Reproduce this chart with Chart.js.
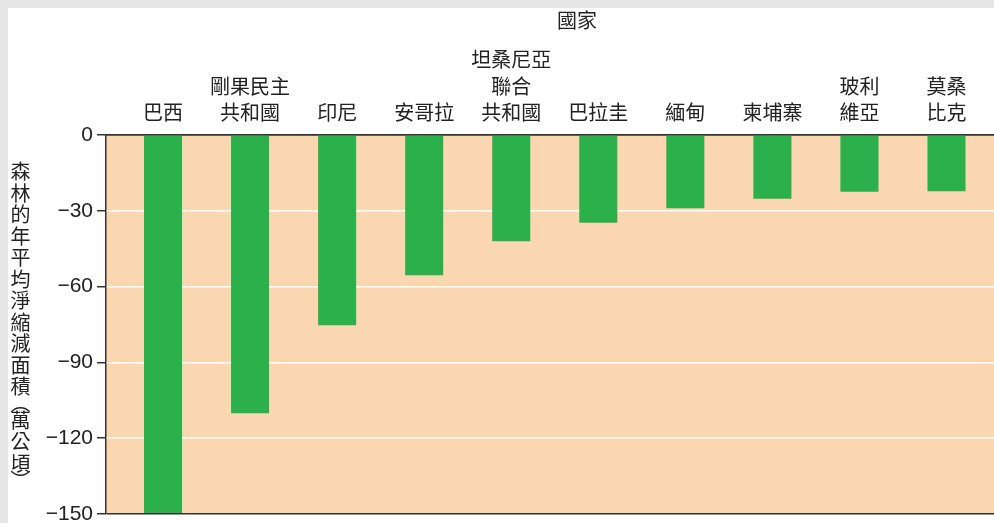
<!DOCTYPE html>
<html>
<head>
<meta charset="utf-8">
<script src="https://cdn.jsdelivr.net/npm/chart.js@4.4.1/dist/chart.umd.min.js"></script>
<style>
  html, body { margin: 0; padding: 0; overflow: hidden; background: #e6e6e6; width: 994px; height: 523px; }
  #wrap { position: absolute; left: 8px; top: 8px; width: 1040px; height: 515px; background: #fff; }
</style>
</head>
<body>
<div id="wrap"><canvas id="grafico-forest" width="1040" height="515"></canvas></div>
<script>
const categories = [['巴西'], ['剛果民主', '共和國'], ['印尼'], ['安哥拉'], ['坦桑尼亞', '聯合', '共和國'],
  ['巴拉圭'], ['緬甸'], ['柬埔寨'], ['玻利', '維亞'], ['莫桑', '比克']];
const netLoss = [-149.6, -110.1, -75.3, -55.5, -42.1, -34.7, -29.0, -25.2, -22.5, -22.3];
const yTicks = [0, -30, -60, -90, -120, -150];
const xTitle = '國家';
const yTitle = '森林的年平均淨縮減面積（萬公頃）';

const cjk = '"Noto Sans CJK TC", "Noto Sans CJK SC", sans-serif';
const latin = '"Liberation Sans", Arial, sans-serif';

// peach plot background
const plotBg = {
  id: 'plotBg',
  beforeDraw(chart) {
    const a = chart.chartArea, c = chart.ctx;
    c.save();
    c.fillStyle = '#fad7b0';
    c.fillRect(a.left, a.top, a.right - a.left, a.bottom - a.top);
    c.restore();
  }
};

// y-axis title written top to bottom, characters upright
const verticalForms = { '（': '\uFE35', '）': '\uFE36' };
const verticalTitle = {
  id: 'verticalTitle',
  afterDraw(chart) {
    const c = chart.ctx;
    c.save();
    c.font = '20px ' + cjk;
    c.fillStyle = '#222';
    c.textAlign = 'center';
    c.textBaseline = 'middle';
    const x = 12.5;
    let y = 153;
    for (const ch of yTitle) {
      const bracket = ch in verticalForms;
      const adv = bracket ? 12 : 21.5;
      c.fillText(bracket ? verticalForms[ch] : ch, x, y + adv / 2);
      y += adv;
    }
    c.restore();
  }
};

const ctx = document.getElementById('grafico-forest').getContext('2d');
const forestChart = new Chart(ctx, {
  type: 'bar',
  data: {
    datasets: [{
      data: netLoss.map((v, i) => ({ x: i, y: v })),
      backgroundColor: '#2bb04b',
      borderWidth: 0,
      categoryPercentage: 1,
      barPercentage: 0.437
    }]
  },
  options: {
    responsive: false,
    animation: false,
    layout: { padding: { left: 0, top: 0, right: 0, bottom: 9 } },
    plugins: { legend: { display: false }, tooltip: { enabled: false } },
    scales: {
      x: {
        type: 'linear',
        position: 'top',
        offset: false,
        min: -0.655,
        max: 10.166,
        afterBuildTicks: s => { s.ticks = categories.map((c, i) => ({ value: i })); },
        afterFit: s => { s.height = 127; s.paddingLeft = 0; s.paddingRight = 0; },
        ticks: {
          autoSkip: false,
          maxRotation: 0,
          padding: 9,
          color: '#222',
          font: { family: cjk, size: 20, lineHeight: 1.33 },
          callback: v => categories[v]
        },
        grid: { display: true, drawOnChartArea: false, drawTicks: false },
        border: { display: true, color: '#333', width: 1.5 },
        title: {
          display: true,
          text: xTitle,
          color: '#222',
          font: { family: cjk, size: 20, lineHeight: 1.2 },
          padding: { top: 0, bottom: 0 }
        }
      },
      y: {
        min: -150,
        max: 0,
        afterBuildTicks: s => { s.ticks = yTicks.map(v => ({ value: v })); },
        afterFit: s => { s.width = 98; s.paddingTop = 0; s.paddingBottom = 0; },
        ticks: {
          padding: 4,
          color: '#222',
          font: { family: latin, size: 21 },
          callback: v => v === 0 ? '0' : '\u2212' + Math.abs(v)
        },
        grid: {
          color: c => (c.tick && (c.tick.value === 0 || c.tick.value === -150)) ? '#333' : '#ffffff',
          lineWidth: 1.5,
          tickColor: '#333',
          tickLength: 9
        },
        border: { display: true, color: '#333', width: 1.5 }
      }
    }
  },
  plugins: [plotBg, verticalTitle]
});
</script>
</body>
</html>
